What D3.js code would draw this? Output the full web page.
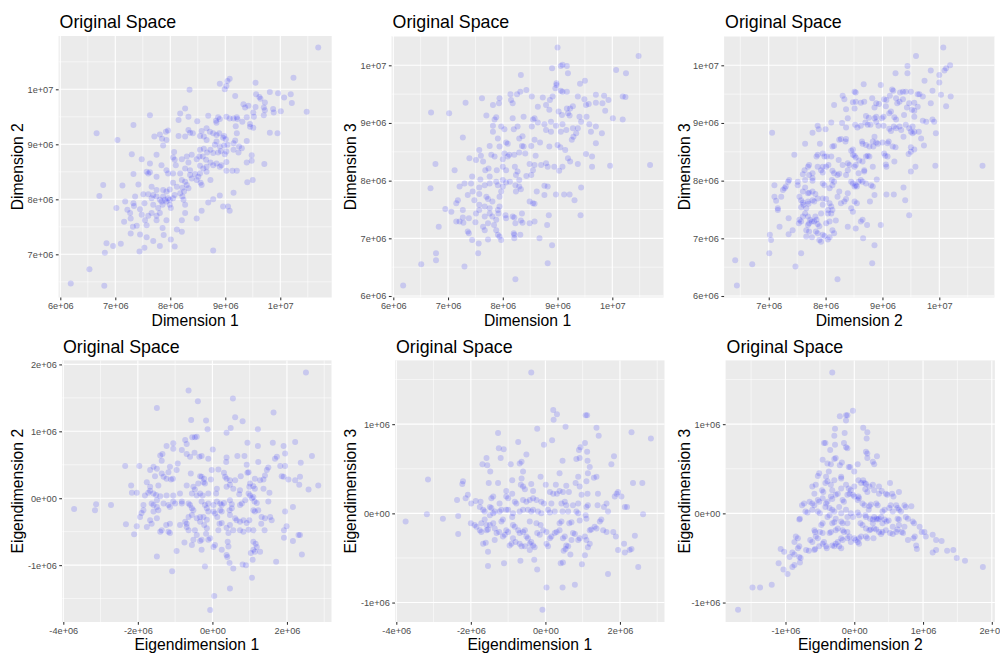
<!DOCTYPE html>
<html>
<head>
<meta charset="utf-8">
<script src="https://cdn.jsdelivr.net/npm/d3@7/dist/d3.min.js"></script>
<style>
  html, body { margin: 0; padding: 0; background: #ffffff; }
  svg { display: block; font-family: "Liberation Sans", Arial, Helvetica, sans-serif; }
</style>
</head>
<body>
<svg id="chart" width="1000" height="655"></svg>
<script>
// All coordinates are in millions (1e6 units).

// Original dimensions 1 vs 2
const dim1Dim2 = [[10.69,10.76],[10.24,10.21],[9.08,10.19],[9.04,10.15],[8.90,10.10],[9.55,10.12],[9.02,10.06],[8.99,10.00],[8.35,9.99],[9.81,9.95],[9.96,9.93],[10.07,9.85],[10.19,9.91],[9.56,9.91],[9.62,9.86],[9.64,9.83],[9.18,9.88],[10.21,9.75],[10.48,9.59],[10.01,9.60],[9.72,9.76],[9.42,9.70],[9.33,9.73],[9.36,9.67],[9.55,9.68],[9.70,9.67],[9.87,9.64],[8.27,9.65],[8.18,9.56],[8.15,9.44],[7.63,9.53],[8.69,9.52],[8.87,9.49],[8.90,9.46],[9.02,9.50],[9.08,9.47],[9.15,9.47],[9.21,9.49],[9.22,9.46],[9.51,9.58],[9.52,9.50],[9.39,9.49],[9.70,9.53],[9.88,9.58],[9.72,9.62],[8.33,9.50],[8.49,9.42],[9.19,9.33],[9.31,9.41],[8.84,9.39],[8.83,9.43],[9.45,9.37],[6.66,9.20],[7.33,9.35],[7.96,9.25],[7.92,9.23],[8.33,9.26],[8.36,9.21],[8.41,9.20],[8.66,9.29],[8.57,9.24],[8.89,9.20],[8.15,9.15],[8.27,9.14],[8.54,9.15],[8.61,9.14],[8.72,9.23],[8.78,9.20],[8.84,9.17],[8.98,9.15],[8.96,9.12],[9.21,9.20],[9.51,9.30],[9.45,9.32],[9.81,9.21],[9.95,9.20],[7.71,9.14],[7.81,9.18],[7.93,9.08],[7.85,9.10],[7.04,9.08],[8.84,9.05],[8.66,9.08],[9.01,9.09],[8.98,8.98],[9.04,8.99],[9.15,9.02],[9.18,9.07],[9.25,8.96],[9.39,9.06],[8.81,8.99],[8.90,8.96],[8.92,8.88],[8.73,8.90],[8.87,8.85],[8.61,8.92],[8.54,8.90],[8.53,8.78],[9.02,8.87],[9.15,8.90],[9.24,8.85],[9.30,8.93],[7.30,8.82],[7.87,8.98],[7.75,8.81],[8.07,8.86],[8.05,8.76],[8.39,8.81],[8.30,8.78],[8.21,8.73],[8.78,8.84],[8.67,8.85],[8.99,8.82],[8.59,8.78],[8.65,8.72],[7.48,8.73],[8.08,8.72],[8.10,8.62],[8.33,8.67],[8.48,8.73],[9.39,8.67],[9.48,8.70],[9.48,8.80],[8.73,8.67],[8.84,8.65],[8.93,8.62],[8.66,8.59],[8.78,8.62],[8.54,8.61],[9.02,8.68],[7.84,8.62],[7.63,8.65],[7.60,8.47],[8.05,8.47],[8.18,8.47],[8.36,8.53],[8.27,8.56],[8.60,8.56],[8.54,8.47],[8.51,8.41],[8.45,8.46],[8.90,8.59],[9.02,8.52],[9.13,8.52],[9.21,8.52],[8.36,8.44],[8.39,8.38],[8.66,8.50],[7.93,8.53],[7.96,8.47],[7.57,8.50],[7.63,8.49],[7.33,8.46],[7.75,8.41],[8.48,8.35],[8.55,8.30],[8.73,8.35],[8.57,8.26],[8.21,8.35],[8.27,8.32],[8.30,8.26],[8.05,8.30],[8.12,8.23],[8.22,8.21],[8.25,8.14],[8.33,8.20],[8.18,8.11],[7.42,8.27],[6.78,8.26],[7.13,8.25],[7.66,8.23],[7.75,8.17],[7.87,8.17],[7.93,8.14],[7.99,8.18],[7.51,8.09],[7.60,8.09],[7.69,8.08],[7.75,8.05],[7.81,7.99],[7.87,8.05],[7.90,7.99],[7.96,8.02],[7.84,7.96],[7.93,7.96],[7.99,7.99],[7.66,8.02],[8.05,8.02],[8.08,8.08],[8.22,8.05],[8.24,7.99],[7.36,8.05],[7.53,7.93],[8.27,7.90],[8.69,7.94],[8.78,8.00],[8.90,8.07],[7.99,7.90],[8.01,7.84],[7.86,7.90],[6.71,8.06],[7.69,7.90],[7.78,7.84],[7.18,7.96],[7.33,7.93],[7.34,7.88],[7.66,7.75],[7.75,7.70],[7.81,7.75],[7.60,7.70],[7.45,7.82],[7.02,7.84],[7.22,7.81],[7.27,7.75],[7.48,7.72],[8.27,7.75],[8.57,7.79],[8.48,7.65],[8.96,7.87],[9.05,7.87],[9.08,7.79],[7.28,7.65],[7.54,7.62],[7.16,7.59],[7.39,7.52],[7.57,7.53],[7.75,7.62],[7.93,7.62],[7.86,7.48],[8.21,7.62],[7.32,7.50],[7.28,7.38],[7.45,7.36],[7.57,7.31],[7.69,7.24],[7.81,7.15],[8.01,7.27],[8.12,7.45],[8.21,7.41],[7.88,7.35],[8.08,7.14],[7.53,7.12],[7.44,7.05],[7.10,7.19],[6.96,7.15],[6.84,7.20],[6.81,7.03],[8.78,7.07],[6.53,6.73],[6.19,6.47],[6.80,6.43],[9.40,8.31],[9.50,8.35],[9.71,8.64],[9.15,8.12]];

// Original dimensions 1 vs 3
const dim1Dim3 = [[9.00,10.31],[10.48,10.16],[9.06,9.99],[9.09,10.01],[9.17,9.99],[8.90,9.95],[10.07,9.92],[10.25,9.86],[9.19,9.86],[8.33,9.83],[8.98,9.69],[8.98,9.66],[9.50,9.73],[9.41,9.68],[8.96,9.60],[9.06,9.56],[9.09,9.54],[9.17,9.54],[8.43,9.57],[8.32,9.54],[8.26,9.50],[8.14,9.50],[8.53,9.46],[8.73,9.44],[8.91,9.46],[9.70,9.49],[9.85,9.47],[10.19,9.46],[10.24,9.45],[9.49,9.41],[9.52,9.31],[9.37,9.46],[8.86,9.40],[9.28,9.29],[9.17,9.25],[9.23,9.25],[9.93,9.40],[9.57,9.33],[9.70,9.35],[9.82,9.34],[9.87,9.21],[8.64,9.28],[8.79,9.31],[8.85,9.23],[9.02,9.20],[9.08,9.14],[9.19,9.17],[9.22,9.13],[9.40,9.11],[9.53,9.11],[10.01,9.08],[10.19,9.06],[7.94,9.43],[7.93,9.34],[8.15,9.40],[8.18,9.34],[7.62,9.43],[7.82,9.31],[7.32,9.35],[6.69,9.18],[7.02,9.17],[7.70,9.13],[7.88,9.10],[7.85,9.06],[8.18,9.08],[8.38,9.11],[8.55,9.06],[8.58,9.08],[8.64,9.01],[8.76,8.98],[8.88,9.02],[8.97,8.95],[9.09,8.98],[9.28,8.91],[9.43,9.02],[9.58,8.98],[9.70,8.94],[9.81,8.82],[9.61,8.85],[9.37,8.91],[9.16,8.88],[9.06,8.85],[8.88,8.85],[8.79,8.88],[8.53,8.94],[8.27,8.94],[7.97,8.94],[8.36,8.77],[8.30,8.73],[8.20,8.89],[7.82,8.95],[7.82,8.85],[8.03,8.89],[7.27,8.75],[7.91,8.73],[8.06,8.66],[8.09,8.64],[8.35,8.60],[8.38,8.59],[8.52,8.60],[8.58,8.71],[8.68,8.66],[8.85,8.59],[9.00,8.62],[9.05,8.58],[9.14,8.53],[9.26,8.71],[9.29,8.76],[9.34,8.82],[9.70,8.65],[9.63,8.42],[9.52,8.46],[9.63,8.24],[9.96,8.26],[10.69,8.27],[9.37,8.29],[9.19,8.39],[9.09,8.24],[9.23,8.33],[9.03,8.17],[8.94,8.24],[8.79,8.30],[8.82,8.24],[8.70,8.27],[8.60,8.43],[8.49,8.29],[8.58,8.27],[8.55,8.18],[8.52,8.10],[8.41,8.47],[8.30,8.49],[8.21,8.45],[8.12,8.45],[8.09,8.42],[8.03,8.47],[7.94,8.59],[7.76,8.60],[7.57,8.53],[7.79,8.45],[7.85,8.42],[8.00,8.37],[7.60,8.43],[7.51,8.36],[7.39,8.39],[7.64,8.33],[7.68,8.18],[7.74,8.21],[7.89,8.18],[8.00,8.24],[8.06,8.18],[8.22,8.24],[8.27,8.16],[8.24,8.10],[8.30,8.01],[8.43,8.08],[6.77,8.29],[7.12,8.18],[7.44,8.07],[7.59,8.02],[7.76,8.07],[7.88,7.98],[8.00,8.01],[8.06,7.97],[8.13,7.98],[8.23,7.92],[7.76,7.95],[7.67,7.92],[7.42,7.95],[7.30,7.95],[7.21,7.90],[6.68,7.87],[7.57,7.88],[7.91,7.92],[8.00,7.90],[7.97,7.81],[7.94,7.72],[8.30,7.90],[8.33,7.85],[8.76,7.91],[8.82,7.90],[8.62,7.81],[8.76,7.75],[8.97,7.76],[9.12,7.76],[9.22,7.76],[9.31,7.66],[9.43,7.88],[9.42,7.40],[8.24,7.81],[7.45,7.81],[7.36,7.75],[7.57,7.77],[7.70,7.72],[7.73,7.68],[7.81,7.64],[7.48,7.66],[7.57,7.58],[7.67,7.55],[7.76,7.52],[7.94,7.55],[7.91,7.49],[7.92,7.43],[7.76,7.43],[7.67,7.38],[7.81,7.38],[7.88,7.32],[8.05,7.40],[8.06,7.35],[8.18,7.38],[8.21,7.36],[8.35,7.43],[8.23,7.26],[8.33,7.31],[8.36,7.27],[8.49,7.26],[8.58,7.29],[8.55,7.61],[8.58,7.60],[8.49,7.64],[8.84,7.40],[8.81,7.23],[7.57,7.49],[7.51,7.43],[7.38,7.35],[7.27,7.36],[7.28,7.27],[7.21,7.29],[7.15,7.29],[7.50,7.28],[7.64,7.20],[7.67,7.14],[7.73,7.26],[7.84,7.23],[7.88,7.14],[7.91,7.06],[7.94,7.03],[7.97,6.97],[8.20,7.09],[8.21,7.06],[8.21,7.00],[8.32,7.06],[7.36,7.12],[7.38,7.09],[7.44,6.97],[7.56,6.91],[7.55,6.74],[7.73,6.98],[8.67,7.00],[8.90,6.88],[6.83,7.20],[6.95,7.51],[7.06,7.46],[7.15,7.61],[7.18,7.66],[6.78,6.74],[6.78,6.62],[6.51,6.55],[7.30,6.51],[8.82,6.57],[8.23,6.29],[6.18,6.18],[7.27,7.49]];

// Original dimensions 2 vs 3
const dim2Dim3 = [[10.07,10.31],[9.59,10.16],[9.44,9.99],[9.44,9.86],[10.19,10.00],[10.12,9.95],[10.09,9.91],[9.85,9.91],[9.23,9.86],[10.00,9.83],[9.74,9.73],[10.00,9.70],[8.97,9.66],[8.67,9.67],[9.17,9.58],[9.19,9.56],[9.31,9.53],[9.36,9.54],[9.41,9.54],[9.50,9.54],[9.62,9.50],[9.65,9.50],[9.88,9.56],[10.03,9.49],[10.20,9.46],[10.12,9.29],[9.85,9.34],[9.71,9.46],[9.62,9.28],[9.56,9.35],[9.36,9.41],[9.24,9.43],[9.13,9.47],[9.26,9.34],[9.30,9.37],[9.47,9.34],[9.43,9.27],[9.06,9.29],[9.12,9.17],[9.15,9.20],[8.94,9.33],[8.89,9.34],[9.03,9.41],[9.07,9.40],[8.82,9.43],[8.68,9.37],[8.62,9.35],[8.53,9.37],[8.48,9.36],[8.51,9.25],[8.51,9.54],[8.53,9.53],[8.30,9.47],[8.33,9.41],[8.15,9.31],[8.36,9.24],[8.86,9.27],[8.71,9.12],[8.76,9.09],[8.86,9.08],[8.89,9.11],[8.99,9.08],[9.02,9.11],[9.21,9.10],[9.24,9.06],[9.38,9.14],[9.56,9.11],[9.71,9.04],[9.77,9.02],[9.88,9.06],[9.91,9.02],[9.94,8.82],[9.41,8.97],[9.47,8.91],[9.53,8.94],[9.56,8.85],[9.50,8.85],[9.53,8.82],[9.33,8.88],[9.30,8.94],[9.37,8.76],[9.64,8.85],[9.68,8.73],[9.73,8.61],[9.50,8.58],[9.52,9.23],[9.56,9.21],[9.20,8.94],[9.24,8.91],[9.12,8.90],[9.15,8.86],[9.02,8.95],[8.93,8.95],[8.89,9.02],[8.79,8.97],[8.70,9.01],[8.74,8.97],[8.62,8.95],[8.52,8.97],[8.56,8.92],[8.39,9.08],[8.29,9.00],[8.36,8.92],[8.10,9.01],[8.00,8.89],[7.86,8.95],[7.88,8.89],[7.77,8.83],[7.64,8.64],[7.90,8.64],[7.45,8.45],[7.06,8.83],[8.12,8.59],[8.15,8.60],[8.27,8.72],[8.24,8.71],[8.36,8.72],[8.35,8.68],[8.48,8.54],[8.45,8.52],[8.48,8.45],[8.51,8.43],[8.53,8.40],[8.64,8.68],[8.65,8.64],[8.71,8.62],[8.77,8.59],[8.83,8.68],[8.86,8.76],[8.89,8.66],[8.92,8.64],[9.00,8.66],[9.09,8.65],[9.11,8.68],[9.18,8.59],[9.23,8.58],[9.03,8.47],[9.05,8.43],[9.09,8.42],[9.21,8.33],[9.06,8.28],[9.07,8.24],[9.46,8.46],[9.50,8.50],[9.56,8.54],[9.58,8.24],[9.50,8.16],[9.93,8.26],[10.76,8.26],[8.84,8.59],[8.77,8.42],[8.71,8.42],[8.74,8.43],[8.65,8.33],[8.59,8.35],[8.83,8.24],[8.68,8.18],[8.68,8.16],[8.58,8.13],[8.51,8.24],[8.53,8.27],[8.42,8.27],[8.39,8.30],[8.30,8.27],[8.23,8.36],[8.10,8.42],[8.02,8.42],[7.95,8.47],[7.98,8.42],[7.86,8.45],[7.84,8.42],[8.01,8.24],[8.05,8.27],[7.95,8.24],[7.86,8.24],[7.71,8.27],[7.69,8.24],[7.77,8.13],[7.71,8.10],[7.60,8.11],[7.64,8.01],[7.92,8.18],[7.95,8.14],[8.12,8.17],[8.15,8.13],[8.21,8.10],[8.24,8.12],[8.36,8.10],[8.39,8.18],[8.45,7.98],[8.48,7.95],[8.53,7.92],[8.58,7.98],[8.51,7.90],[8.55,7.90],[8.62,8.01],[8.65,7.98],[8.71,7.95],[8.90,8.02],[8.80,7.92],[8.83,7.90],[8.86,7.75],[8.78,7.64],[9.07,7.76],[9.20,7.76],[9.37,7.88],[9.40,7.66],[9.47,7.40],[8.11,8.01],[8.15,7.98],[7.95,7.95],[7.98,7.92],[8.12,7.92],[8.07,7.87],[8.39,7.78],[8.33,7.64],[8.36,7.68],[8.24,7.81],[8.21,7.72],[8.27,7.61],[8.51,7.64],[8.55,7.61],[8.45,7.52],[8.48,7.46],[8.62,7.29],[8.65,7.32],[8.39,7.20],[8.53,7.17],[8.66,7.00],[8.86,6.88],[8.82,6.57],[8.97,7.23],[8.73,7.23],[8.12,7.14],[8.15,7.09],[8.18,7.31],[8.07,7.29],[8.01,7.26],[8.12,7.49],[8.10,7.43],[8.04,7.49],[8.04,7.43],[7.92,7.43],[7.82,7.38],[7.84,7.32],[7.95,7.69],[8.01,7.68],[8.07,7.61],[8.10,7.55],[7.95,7.58],[7.86,7.69],[7.77,7.66],[7.80,7.64],[7.69,7.64],[7.70,7.60],[7.60,7.62],[7.61,7.58],[7.57,7.54],[7.66,7.52],[7.64,7.43],[7.69,7.38],[7.73,7.32],[7.76,7.29],[7.80,7.29],[7.71,7.26],[7.69,7.23],[7.86,7.25],[7.89,7.21],[7.66,7.14],[7.71,7.12],[7.83,7.12],[7.86,7.09],[7.89,6.97],[7.92,6.94],[8.04,6.98],[8.07,7.02],[7.95,7.06],[7.98,7.04],[7.76,7.02],[7.42,7.14],[7.77,8.00],[7.51,7.92],[7.64,7.88],[7.60,7.81],[7.69,7.78],[7.71,7.79],[7.77,7.81],[7.82,7.77],[7.77,8.04],[7.63,8.18],[7.54,7.72],[7.57,7.66],[7.54,7.32],[7.57,7.29],[7.53,7.26],[7.60,7.38],[7.66,7.03],[7.25,7.84],[7.28,7.87],[7.30,7.90],[7.10,7.92],[7.10,7.72],[7.13,7.65],[7.16,7.49],[7.16,7.52],[7.22,7.72],[7.19,7.20],[7.35,7.35],[7.34,7.98],[7.36,8.01],[7.51,7.98],[7.35,7.07],[7.02,7.06],[7.04,6.97],[7.01,6.74],[7.57,6.74],[7.47,6.51],[6.71,6.55],[6.41,6.62],[6.44,6.18],[8.21,6.29]];

// Eigendimensions 1 vs 2
const eig1Eig2 = [[2.51,1.88],[-0.64,1.61],[0.55,1.49],[-0.39,1.45],[-1.49,1.35],[1.64,1.28],[0.61,1.21],[-0.57,1.17],[-0.17,1.16],[0.81,1.15],[-0.13,1.03],[0.49,1.05],[0.38,0.98],[1.22,1.03],[2.22,0.84],[1.62,0.83],[0.94,0.83],[-0.47,0.91],[-0.42,0.92],[-0.54,0.91],[-0.73,0.87],[-0.69,0.81],[-1.05,0.82],[-1.23,0.78],[-1.05,0.74],[-0.82,0.72],[-1.34,0.66],[-1.40,0.64],[-0.69,0.66],[-0.60,0.62],[-0.48,0.68],[-0.35,0.62],[-0.29,0.63],[-0.11,0.59],[0.01,0.73],[0.38,0.61],[0.37,0.54],[0.67,0.63],[0.86,0.63],[1.91,0.78],[1.95,0.67],[1.68,0.59],[1.73,0.62],[2.67,0.63],[2.37,0.53],[1.22,0.78],[1.23,0.54],[0.92,0.50],[-2.34,0.48],[-1.96,0.48],[-1.58,0.47],[-1.49,0.44],[-1.67,0.42],[-1.36,0.56],[-1.14,0.47],[-0.93,0.52],[-0.96,0.42],[-1.18,0.39],[-1.36,0.37],[-1.31,0.32],[-1.54,0.33],[-1.06,0.29],[-1.11,0.28],[-1.23,0.29],[-0.58,0.37],[-0.33,0.33],[-0.29,0.32],[-0.22,0.29],[-0.02,0.42],[0.16,0.43],[0.31,0.38],[0.34,0.32],[0.38,0.29],[0.47,0.27],[0.61,0.27],[0.76,0.33],[0.94,0.38],[0.97,0.39],[1.14,0.29],[1.37,0.28],[1.41,0.34],[1.46,0.42],[1.50,0.46],[1.82,0.48],[1.95,0.48],[1.86,0.33],[1.91,0.32],[2.04,0.28],[2.35,0.32],[2.22,0.27],[2.84,0.19],[2.58,0.13],[2.33,0.20],[1.28,0.27],[1.10,0.18],[1.14,0.14],[1.37,0.14],[1.53,0.08],[1.01,0.22],[0.99,0.17],[0.74,0.12],[0.72,0.06],[0.97,0.07],[1.01,0.04],[1.10,0.02],[1.06,0.00],[1.13,-0.05],[1.19,-0.07],[0.38,0.17],[0.56,0.14],[0.47,0.20],[0.12,0.14],[0.10,0.07],[-0.24,0.24],[-0.20,0.22],[-0.38,0.22],[-0.51,0.17],[-0.47,0.13],[-0.69,0.19],[-0.55,0.07],[-0.42,0.04],[-0.33,0.07],[-0.26,0.04],[-0.11,0.07],[-0.87,0.07],[-1.05,0.04],[-1.23,0.04],[-1.45,0.19],[-1.58,0.07],[-1.51,0.05],[-1.67,0.11],[-1.72,0.08],[-1.76,0.24],[-1.67,0.17],[-2.03,0.08],[-2.18,0.19],[-2.16,0.08],[-1.81,0.04],[-1.85,-0.10],[-1.85,-0.18],[-1.63,-0.08],[-1.58,-0.10],[-1.49,-0.13],[-1.45,-0.18],[-1.58,-0.20],[-1.31,-0.08],[-1.18,-0.10],[-1.14,-0.13],[-1.05,-0.05],[-1.00,-0.08],[-0.82,-0.08],[-0.82,-0.05],[-0.64,-0.08],[-0.60,-0.10],[-0.55,-0.15],[-0.51,-0.18],[-0.29,-0.05],[-0.20,-0.10],[-0.11,-0.08],[0.03,-0.10],[0.12,-0.05],[0.21,-0.08],[0.25,-0.10],[0.31,-0.07],[0.47,-0.03],[0.52,-0.09],[0.03,-0.20],[0.07,-0.23],[0.21,-0.18],[0.25,-0.20],[0.47,-0.25],[0.61,-0.30],[0.65,-0.33],[0.74,-0.35],[0.83,-0.33],[0.92,-0.37],[0.99,-0.33],[1.10,-0.18],[1.14,-0.20],[1.23,-0.18],[1.50,-0.05],[1.32,-0.28],[1.41,-0.30],[1.55,-0.28],[1.59,-0.33],[1.31,-0.38],[1.40,-0.48],[1.95,-0.20],[2.16,-0.13],[1.99,-0.42],[1.92,-0.48],[1.92,-0.59],[2.16,-0.64],[2.31,-0.55],[2.35,-0.55],[2.40,-0.84],[1.71,-0.95],[1.10,-0.48],[0.97,-0.47],[0.74,-0.48],[0.83,-0.50],[0.47,-0.40],[0.38,-0.44],[0.56,-0.48],[0.43,-0.52],[1.10,-0.65],[1.16,-0.68],[1.19,-0.73],[1.28,-0.80],[1.03,-0.82],[1.10,-0.77],[1.14,-0.80],[1.08,-0.92],[0.81,-0.99],[0.90,-1.00],[1.06,-1.19],[0.56,-1.05],[0.46,-0.97],[0.47,-1.35],[0.05,-1.46],[-0.06,-1.67],[0.41,-0.65],[0.43,-0.72],[0.38,-0.85],[0.40,-0.88],[0.25,-0.77],[0.07,-0.70],[0.03,-0.73],[-0.11,-0.62],[-0.06,-0.60],[-0.17,-0.53],[-0.15,-0.45],[-0.22,-0.40],[-0.33,-0.35],[-0.24,-0.28],[-0.42,-0.30],[-0.33,-0.28],[-0.55,-0.25],[-0.64,-0.28],[-0.73,-0.35],[-0.69,-0.38],[-0.87,-0.40],[-0.69,-0.43],[-0.64,-0.48],[-0.47,-0.48],[-0.42,-0.55],[-0.33,-0.64],[-0.29,-0.62],[-0.51,-0.62],[-0.55,-0.70],[-0.29,-0.77],[-0.75,-0.66],[-0.96,-0.79],[-0.20,-1.02],[-1.08,-1.09],[-1.49,-0.87],[-1.14,-0.38],[-1.24,-0.40],[-1.36,-0.48],[-1.40,-0.50],[-1.18,-0.50],[-1.14,-0.52],[-1.49,-0.30],[-1.67,-0.33],[-1.63,-0.38],[-1.76,-0.43],[-2.03,-0.42],[-2.10,-0.54],[-2.32,-0.39],[-1.94,-0.28],[-1.90,-0.22],[-3.71,-0.16],[-3.15,-0.18],[-3.12,-0.09],[-2.72,-0.10],[-1.49,-0.03],[-1.40,0.03],[-0.04,0.28],[0.74,-0.10],[0.79,-0.08],[0.88,-0.03],[0.46,-0.18],[0.52,-0.15],[-0.15,-0.15],[-0.11,-0.20],[0.13,-0.28],[-0.15,-0.32],[0.19,-0.38],[0.25,-0.37],[0.16,-0.48]];

// Eigendimensions 1 vs 3
const eig1Eig3 = [[-0.38,1.58],[0.21,1.16],[0.31,1.11],[0.22,1.05],[1.08,1.10],[1.12,1.10],[-0.22,0.95],[0.54,0.97],[1.37,0.96],[1.43,0.87],[2.31,0.91],[2.83,0.84],[0.18,0.82],[-1.27,0.90],[-0.73,0.80],[-0.04,0.77],[1.06,0.79],[0.94,0.74],[0.90,0.71],[1.12,0.69],[-1.25,0.73],[-1.12,0.72],[-1.20,0.62],[-1.58,0.62],[-0.51,0.66],[-1.69,0.55],[-1.56,0.54],[-0.93,0.55],[-0.69,0.56],[-0.64,0.58],[0.46,0.59],[0.83,0.61],[0.92,0.62],[1.13,0.59],[1.19,0.52],[1.14,0.45],[1.84,0.64],[1.77,0.55],[-1.48,0.47],[-0.13,0.41],[0.38,0.45],[1.37,0.41],[1.30,0.40],[-0.89,0.37],[-1.52,0.34],[-1.27,0.34],[-3.15,0.38],[-2.21,0.36],[-2.23,0.33],[-0.38,0.33],[0.28,0.32],[0.56,0.31],[0.92,0.30],[1.10,0.36],[2.35,0.34],[2.60,0.34],[-0.66,0.32],[-0.60,0.30],[-0.55,0.27],[-0.33,0.25],[0.01,0.32],[0.12,0.24],[0.21,0.22],[0.31,0.22],[0.38,0.25],[0.47,0.24],[0.63,0.24],[0.97,0.21],[1.13,0.22],[1.41,0.22],[1.91,0.22],[1.95,0.24],[2.04,0.19],[1.86,0.19],[-2.08,0.21],[-2.14,0.17],[-2.37,0.15],[-1.87,0.14],[-1.99,0.11],[-1.05,0.25],[-0.89,0.22],[-1.40,0.19],[-1.45,0.17],[-1.05,0.19],[-1.00,0.17],[-0.82,0.13],[-0.78,0.11],[-0.60,0.15],[-0.51,0.13],[-0.42,0.15],[-0.33,0.17],[-0.24,0.15],[-0.11,0.13],[-0.04,0.11],[0.16,0.11],[0.43,0.11],[0.52,0.13],[0.56,0.09],[0.74,0.09],[0.88,0.11],[1.10,0.07],[1.14,0.09],[1.40,0.09],[1.57,0.07],[1.64,0.11],[1.68,0.02],[2.13,0.07],[2.19,0.07],[2.62,-0.01],[-1.67,0.04],[-1.63,0.02],[-1.49,0.07],[-1.45,0.06],[-1.40,0.00],[-1.36,0.02],[-1.23,0.02],[-1.18,0.04],[-1.05,0.04],[-1.00,0.04],[-0.89,-0.04],[-0.87,0.00],[-0.69,0.02],[-0.60,0.04],[-0.47,0.04],[-0.38,0.02],[-0.33,0.04],[-0.20,0.02],[-0.11,0.00],[0.07,0.04],[0.12,0.01],[0.25,0.02],[0.46,0.02],[0.61,0.02],[0.83,0.02],[0.88,0.00],[1.08,-0.02],[1.10,-0.06],[-3.75,-0.09],[-3.18,-0.01],[-2.75,-0.06],[-2.34,-0.03],[-2.34,-0.23],[-2.00,-0.11],[-1.90,-0.13],[-1.85,-0.15],[-1.76,-0.19],[-1.72,-0.21],[-1.58,-0.13],[-1.63,-0.07],[-1.58,-0.19],[-1.54,-0.18],[-1.49,-0.13],[-1.40,-0.11],[-1.36,-0.17],[-1.31,-0.22],[-1.24,-0.21],[-1.14,-0.26],[-1.09,-0.24],[-1.05,-0.19],[-1.00,-0.21],[-1.18,-0.09],[-1.14,-0.07],[-0.87,-0.13],[-0.82,-0.15],[-0.73,-0.19],[-0.69,-0.22],[-0.60,-0.21],[-0.55,-0.19],[-0.51,-0.26],[-0.47,-0.28],[-0.42,-0.34],[-0.38,-0.32],[-0.33,-0.36],[-0.29,-0.38],[-0.22,-0.22],[-0.15,-0.24],[-0.06,-0.19],[0.03,-0.21],[0.12,-0.28],[0.16,-0.26],[0.25,-0.22],[0.30,-0.21],[0.38,-0.19],[0.47,-0.28],[0.52,-0.26],[0.56,-0.36],[0.61,-0.37],[0.70,-0.30],[0.74,-0.22],[0.79,-0.23],[0.88,-0.30],[0.92,-0.28],[1.06,-0.26],[1.10,-0.30],[1.19,-0.19],[1.23,-0.18],[1.32,-0.15],[1.37,-0.17],[1.46,-0.09],[1.50,-0.07],[1.55,-0.19],[1.64,-0.21],[1.82,-0.21],[1.89,-0.26],[1.95,-0.41],[2.13,-0.44],[2.31,-0.40],[2.26,-0.41],[2.40,-0.25],[2.11,-0.34],[2.49,-0.60],[1.68,-0.68],[1.19,-0.34],[1.14,-0.38],[1.06,-0.47],[0.98,-0.57],[0.54,-0.40],[0.49,-0.42],[0.47,-0.55],[0.41,-0.56],[0.67,-0.46],[0.79,-0.80],[0.46,-0.83],[0.03,-0.83],[-0.08,-1.08],[-0.22,-0.63],[-0.30,-0.52],[0.03,-0.34],[0.07,-0.37],[-0.69,-0.34],[-0.64,-0.37],[-0.55,-0.37],[-0.42,-0.41],[-0.67,-0.53],[-1.11,-0.56],[-1.54,-0.59],[-1.54,-0.43],[-1.60,-0.33],[-1.67,-0.34],[-1.36,-0.30],[-0.87,-0.28],[-0.80,-0.32],[-0.96,-0.36],[-0.91,-0.34],[-0.13,-0.13],[-0.24,-0.11],[0.38,-0.11],[0.43,-0.09],[0.64,-0.11],[0.70,-0.10],[0.92,-0.08],[-0.42,-0.09],[-1.74,0.13],[-1.76,0.07],[-1.72,-0.11],[-1.49,-0.02],[-1.23,0.11],[0.88,0.41],[0.81,0.34],[-0.64,0.39],[-0.60,0.47]];

// Eigendimensions 2 vs 3
const eig2Eig3 = [[-0.32,1.58],[-0.02,1.15],[-0.10,1.10],[-0.12,1.10],[-0.21,1.09],[-0.12,1.04],[-0.28,0.95],[0.13,0.96],[0.19,0.91],[-0.14,0.90],[-0.29,0.87],[0.18,0.84],[-0.42,0.79],[-0.44,0.79],[-0.15,0.79],[-0.12,0.74],[-0.10,0.73],[-0.28,0.77],[0.17,0.69],[0.19,0.67],[-0.35,0.71],[0.33,0.64],[0.19,0.62],[0.27,0.58],[0.29,0.55],[-0.46,0.60],[-0.27,0.62],[-0.29,0.61],[-0.39,0.56],[-0.34,0.55],[-0.21,0.54],[-0.18,0.57],[-0.08,0.52],[-0.06,0.52],[0.05,0.55],[-0.51,0.45],[-0.53,0.42],[-0.37,0.47],[-0.41,0.41],[-0.39,0.36],[-0.42,0.34],[-0.34,0.32],[-0.29,0.37],[-0.19,0.39],[-0.19,0.41],[0.00,0.47],[0.06,0.37],[0.10,0.34],[0.15,0.34],[0.17,0.33],[0.27,0.32],[0.36,0.30],[0.16,0.27],[0.29,0.26],[0.40,0.25],[0.52,0.34],[0.46,0.22],[0.48,0.21],[0.55,0.22],[0.57,0.19],[0.65,0.24],[-0.56,0.32],[-0.61,0.30],[-0.47,0.26],[-0.45,0.24],[-0.58,0.22],[-0.65,0.13],[-0.76,0.09],[-0.73,0.11],[-0.71,0.02],[-0.68,0.01],[-0.80,-0.07],[-0.79,-0.06],[-0.61,0.11],[-0.58,0.09],[-0.53,0.15],[-0.51,0.13],[-0.46,0.17],[-0.41,0.11],[-0.39,0.13],[-0.34,0.19],[-0.32,0.16],[-0.27,0.21],[-0.24,0.22],[-0.17,0.15],[-0.15,0.13],[-0.10,0.21],[-0.07,0.22],[-0.02,0.21],[0.00,0.19],[0.05,0.15],[0.07,0.17],[0.12,0.11],[0.15,0.09],[0.22,0.08],[0.24,0.10],[0.32,0.11],[0.34,0.09],[0.41,0.02],[0.44,0.04],[0.51,0.06],[0.53,0.09],[0.61,0.09],[0.63,0.06],[0.73,0.09],[0.75,0.07],[0.83,0.08],[-0.42,0.07],[-0.36,0.06],[-0.32,0.04],[-0.29,0.02],[-0.22,0.07],[-0.19,0.00],[-0.12,0.04],[-0.10,-0.04],[-0.05,0.00],[-0.02,-0.04],[0.05,0.01],[0.07,-0.02],[0.16,-0.02],[0.17,-0.04],[0.23,-0.06],[0.27,-0.07],[0.29,-0.04],[0.32,-0.06],[0.34,-0.07],[0.36,-0.06],[0.39,-0.04],[0.44,-0.07],[0.47,-0.09],[0.50,-0.08],[0.63,-0.06],[0.65,-0.07],[0.75,-0.04],[0.78,-0.06],[0.85,-0.09],[0.87,-0.11],[0.95,-0.15],[0.98,-0.21],[1.02,-0.21],[1.14,-0.24],[1.04,-0.26],[1.19,-0.30],[1.27,-0.31],[1.14,-0.44],[1.19,-0.41],[1.35,-0.42],[1.44,-0.41],[1.49,-0.50],[1.61,-0.53],[1.87,-0.60],[0.90,-0.36],[0.91,-0.40],[0.86,-0.28],[0.88,-0.26],[0.78,-0.30],[0.69,-0.21],[0.71,-0.22],[0.61,-0.21],[0.63,-0.18],[0.52,-0.22],[0.56,-0.23],[0.46,-0.19],[0.41,-0.21],[0.36,-0.21],[0.39,-0.23],[0.29,-0.17],[0.32,-0.18],[0.28,-0.28],[0.22,-0.19],[0.24,-0.18],[0.17,-0.17],[0.09,-0.11],[0.12,-0.13],[0.17,-0.26],[0.19,-0.28],[0.10,-0.26],[0.07,-0.28],[0.00,-0.28],[0.02,-0.30],[-0.07,-0.26],[-0.10,-0.28],[-0.05,-0.32],[-0.19,-0.28],[-0.17,-0.30],[-0.22,-0.37],[-0.19,-0.39],[-0.32,-0.36],[-0.29,-0.37],[-0.41,-0.37],[-0.40,-0.39],[-0.46,-0.34],[-0.44,-0.32],[-0.50,-0.21],[-0.46,-0.22],[-0.36,-0.22],[-0.34,-0.21],[-0.27,-0.19],[-0.24,-0.17],[-0.32,-0.11],[-0.29,-0.10],[-0.19,-0.09],[-0.17,-0.11],[-0.10,-0.11],[-0.10,-0.21],[-0.46,-0.11],[-0.48,-0.13],[-0.58,-0.19],[-0.57,-0.21],[-0.64,-0.30],[-0.61,-0.32],[-0.70,-0.41],[-0.66,-0.42],[-0.58,-0.41],[-0.57,-0.40],[-0.51,-0.37],[-0.85,-0.26],[-0.82,-0.28],[-0.87,-0.32],[-0.82,-0.39],[-0.80,-0.37],[-0.90,-0.44],[-0.87,-0.46],[-0.80,-0.49],[-0.78,-0.50],[-0.90,-0.60],[-0.87,-0.58],[-0.79,-0.55],[-1.02,-0.43],[-1.07,-0.40],[-0.94,-0.49],[-1.10,-0.56],[-1.03,-0.63],[-0.97,-0.68],[-1.20,-0.80],[-1.37,-0.83],[-1.48,-0.83],[-1.69,-1.08],[-0.53,0.02],[-0.50,0.00],[-0.61,0.04],[-0.36,-0.02],[-0.39,-0.04],[-0.27,-0.06],[0.19,0.24],[0.22,0.30],[0.13,0.37],[0.06,0.19],[0.00,0.30],[-0.19,0.28],[-0.12,0.32],[-0.08,0.28],[-0.05,0.26],[-0.32,0.26],[0.36,0.22],[0.65,0.04],[0.68,0.02],[0.56,0.02],[0.21,0.04],[0.65,-0.13],[0.73,-0.15],[0.56,-0.15],[0.41,-0.11],[0.27,-0.11],[-0.27,-0.34],[-0.24,-0.32],[-0.17,-0.19],[-0.15,-0.21],[-0.56,-0.26],[-0.53,-0.28],[0.05,-0.32],[0.07,-0.34]];

// Axis breaks (millions) and their printed labels
const dimBreaks = [6, 7, 8, 9, 10];
const dimBreakLabels = ["6e+06", "7e+06", "8e+06", "9e+06", "1e+07"];
const eigWideBreaks = [-4, -2, 0, 2];
const eigWideLabels = ["-4e+06", "-2e+06", "0e+00", "2e+06"];
const eigUnitBreaks = [-1, 0, 1, 2];
const eigUnitLabels = ["-1e+06", "0e+00", "1e+06", "2e+06"];

const plotTitle = "Original Space";

// Panel grid: data, titles, scale domains and on-page placement
const panels = [
  { data: dim1Dim2, xTitle: "Dimension 1", yTitle: "Dimension 2",
    xb: dimBreaks, xl: dimBreakLabels, yb: dimBreaks, yl: dimBreakLabels,
    xDomain: [5.969, 10.935], yDomain: [6.215, 10.969],
    box: { left: 58.6, right: 331.7, top: 36, bottom: 297.5 }, cellX: 0 },
  { data: dim1Dim3, xTitle: "Dimension 1", yTitle: "Dimension 3",
    xb: dimBreaks, xl: dimBreakLabels, yb: dimBreaks, yl: dimBreakLabels,
    xDomain: [5.969, 10.935], yDomain: [5.974, 10.508],
    box: { left: 391.6, right: 663.5, top: 36, bottom: 297.5 }, cellX: 333.3 },
  { data: dim2Dim3, xTitle: "Dimension 2", yTitle: "Dimension 3",
    xb: dimBreaks, xl: dimBreakLabels, yb: dimBreaks, yl: dimBreakLabels,
    xDomain: [6.215, 10.969], yDomain: [5.974, 10.508],
    box: { left: 724.1, right: 994.4, top: 36, bottom: 297.5 }, cellX: 666.7 },
  { data: eig1Eig2, xTitle: "Eigendimension 1", yTitle: "Eigendimension 2",
    xb: eigWideBreaks, xl: eigWideLabels, yb: eigUnitBreaks, yl: eigUnitLabels,
    xDomain: [-4.035, 3.195], yDomain: [-1.850, 2.060],
    box: { left: 62, right: 331.5, top: 360.4, bottom: 622 }, cellX: 0 },
  { data: eig1Eig3, xTitle: "Eigendimension 1", yTitle: "Eigendimension 3",
    xb: eigWideBreaks, xl: eigWideLabels, yb: eigUnitBreaks, yl: eigUnitLabels,
    xDomain: [-4.035, 3.195], yDomain: [-1.218, 1.715],
    box: { left: 395, right: 664.5, top: 360.4, bottom: 622 }, cellX: 333.3 },
  { data: eig2Eig3, xTitle: "Eigendimension 2", yTitle: "Eigendimension 3",
    xb: eigUnitBreaks, xl: eigUnitLabels, yb: eigUnitBreaks, yl: eigUnitLabels,
    xDomain: [-1.871, 2.045], yDomain: [-1.218, 1.715],
    box: { left: 725.6, right: 994.9, top: 360.4, bottom: 622 }, cellX: 666.7 }
];

const svg = d3.select("#chart");
const inDomain = (v, dom) => v >= Math.min(...dom) && v <= Math.max(...dom);

// Minor breaks sit halfway between major breaks (and one step beyond each end)
function minorBreaks(breaks, dom) {
  const step = breaks[1] - breaks[0];
  const out = [];
  for (let i = -1; i < breaks.length; i++) {
    out.push(breaks[0] + step * (i + 0.5));
  }
  return out.filter(v => inDomain(v, dom));
}

panels.forEach(p => {
  const b = p.box;
  const x = d3.scaleLinear().domain(p.xDomain).range([b.left, b.right]);
  const y = d3.scaleLinear().domain(p.yDomain).range([b.bottom, b.top]);
  const xMajor = p.xb.filter(v => inDomain(v, p.xDomain));
  const yMajor = p.yb.filter(v => inDomain(v, p.yDomain));
  const g = svg.append("g");

  g.append("rect")
    .attr("x", b.left).attr("y", b.top)
    .attr("width", b.right - b.left).attr("height", b.bottom - b.top)
    .attr("fill", "#EBEBEB");

  // minor grid
  g.selectAll(".vminor").data(minorBreaks(p.xb, p.xDomain)).join("line")
    .attr("x1", d => x(d)).attr("x2", d => x(d))
    .attr("y1", b.top).attr("y2", b.bottom)
    .attr("stroke", "#ffffff").attr("stroke-width", 0.55);
  g.selectAll(".hminor").data(minorBreaks(p.yb, p.yDomain)).join("line")
    .attr("y1", d => y(d)).attr("y2", d => y(d))
    .attr("x1", b.left).attr("x2", b.right)
    .attr("stroke", "#ffffff").attr("stroke-width", 0.55);
  // major grid
  g.selectAll(".vmajor").data(xMajor).join("line")
    .attr("x1", d => x(d)).attr("x2", d => x(d))
    .attr("y1", b.top).attr("y2", b.bottom)
    .attr("stroke", "#ffffff").attr("stroke-width", 1.1);
  g.selectAll(".hmajor").data(yMajor).join("line")
    .attr("y1", d => y(d)).attr("y2", d => y(d))
    .attr("x1", b.left).attr("x2", b.right)
    .attr("stroke", "#ffffff").attr("stroke-width", 1.1);

  // points
  g.append("g").selectAll("circle").data(p.data).join("circle")
    .attr("cx", d => x(d[0])).attr("cy", d => y(d[1]))
    .attr("r", 3)
    .attr("fill", "#0000FF").attr("fill-opacity", 0.15);

  // axes
  const xAxis = d3.axisBottom(x).tickValues(xMajor)
    .tickFormat(d => p.xl[p.xb.indexOf(d)])
    .tickSize(2.75).tickPadding(2.6);
  const yAxis = d3.axisLeft(y).tickValues(yMajor)
    .tickFormat(d => p.yl[p.yb.indexOf(d)])
    .tickSize(2.75).tickPadding(2.5);

  const gx = g.append("g").attr("transform", `translate(0,${b.bottom})`).call(xAxis);
  const gy = g.append("g").attr("transform", `translate(${b.left},0)`).call(yAxis);
  [gx, gy].forEach(ax => {
    ax.select(".domain").remove();
    ax.selectAll(".tick line").attr("stroke", "#333333").attr("stroke-width", 1.07);
    ax.selectAll(".tick text")
      .attr("fill", "#4D4D4D")
      .style("font-size", "9.2px")
      .style("font-family", "'Liberation Sans', Arial, sans-serif");
  });

  // titles
  g.append("text")
    .attr("x", b.left + 1).attr("y", b.top - 7.6)
    .style("font-size", "17.8px").attr("fill", "#000000")
    .text(plotTitle);

  g.append("text")
    .attr("x", (b.left + b.right) / 2).attr("y", b.bottom + 28.3)
    .attr("text-anchor", "middle")
    .style("font-size", "15.7px").attr("fill", "#000000")
    .text(p.xTitle);

  g.append("text")
    .attr("transform", `translate(${p.cellX + 23},${(b.top + b.bottom) / 2}) rotate(-90)`)
    .attr("text-anchor", "middle")
    .style("font-size", "15.7px").attr("fill", "#000000")
    .text(p.yTitle);
});
</script>
</body>
</html>
